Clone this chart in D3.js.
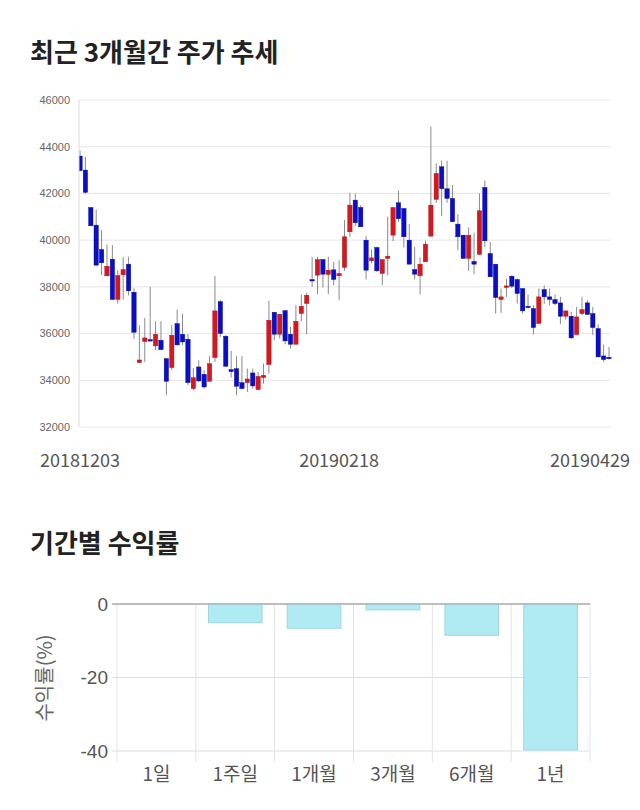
<!DOCTYPE html>
<html><head><meta charset="utf-8">
<script src="https://cdn.jsdelivr.net/npm/d3@7"></script>
<style>body{margin:0;background:#fff;} svg{display:block;}</style>
</head><body><svg id="c" width="640" height="810"></svg>
<script>
// ---- candlestick data (KRW) ----
const candleOpen = [43600,43000,41400,40643,39600,38471,39186,37457,38514,38971,37771,34757,35657,35743,35471,35714,34929,34543,36429,35970,
35757,33643,34571,34257,33957,34971,37371,35886,34457,34500,33900,33900,34314,33600,34114,34671,36914,35971,36986,35971,
35543,36857,37286,38315,38500,39172,38529,38729,38472,38829,40357,41714,41400,40000,39114,39686,38572,39214,40214,41600,
41357,40000,38743,38472,39071,40171,41743,43143,42200,41786,40686,40214,39214,39086,39386,42257,39429,38971,37457,37971,
38457,38314,37929,37171,37071,36429,37886,37571,37457,37314,36743,36743,35957,36857,37314,36857,36214,35043,34986];
const candleClose = [42971,42043,40614,38929,39029,38886,37457,38486,38743,37829,36057,34871,35814,35686,35971,35314,33957,35929,35514,35640,
33900,34114,33971,33714,34714,36971,36000,34600,34371,33743,33643,34057,33757,34171,34214,36571,35971,36829,35686,35543,
36528,37171,37643,38255,39172,38543,38714,38315,38572,40143,41500,40743,40571,38714,39242,38686,39172,39314,41400,40914,
40143,38971,38543,38971,39829,41500,42857,42200,41786,40786,40143,39214,40214,38971,41257,39971,38429,37543,37571,38042,
38029,37714,36971,37114,36257,37571,37571,37457,37286,36743,36971,35814,36714,37029,36814,36257,35000,34886,34957];
const candleHigh = [43829,43571,41400,41314,40429,39814,39786,38714,39286,39286,37943,36357,36671,38000,36529,36529,34950,36357,37029,36850,
35971,34529,34857,34429,35029,38457,37429,35929,35257,35029,35029,34500,34500,34357,34714,37400,36914,36829,36986,36286,
37214,37671,37743,39285,39285,39172,39285,39070,39142,40857,42029,42000,41500,40171,39600,39714,39172,41000,41400,42114,
41357,40686,39714,39257,39971,44857,43286,43400,43400,42357,41114,40214,40543,40314,42000,42543,39929,38971,37929,38357,
38500,38357,37929,37671,37214,37929,38057,37929,37671,37571,36971,36929,37143,37571,37429,37143,36400,35529,35429];
const candleLow = [42950,42000,40600,38900,38500,38471,37450,37286,37457,37629,35771,34740,34786,35680,35286,35286,33357,34429,35500,35500,
33786,33571,33929,33643,33957,34786,35857,34571,34114,33357,33600,33500,33643,33571,33857,34286,35714,35786,35543,35357,
35543,36529,35957,38000,37686,37971,37686,38070,37429,38686,40142,40600,40571,38315,39000,38643,38070,38500,39957,40785,
39686,38971,38315,37686,39071,40171,41600,41029,41600,40786,39571,39214,38686,38543,39386,39714,38429,36857,36885,37571,
37950,37286,36857,37071,35957,36429,37271,37214,37214,36400,36600,35786,35957,36786,36814,35929,35000,34786,34886];
const priceTicks = [32000,34000,36000,38000,40000,42000,44000,46000];
const dateTickLabels = ["20181203","20190218","20190429"];
const dateTickIndex = [0,48,98];

// ---- return data ----
const periods = ["1일","1주일","1개월","3개월","6개월","1년"];
const returns = [0,-5.1,-6.6,-1.6,-8.5,-39.7];
const returnTicks = [0,-20,-40];

const svg = d3.select("#c");
const KR = "'Noto Sans CJK KR','Noto Sans',sans-serif";
const NUM = "'Liberation Sans',Arial,sans-serif";

// titles
svg.append("text").attr("x",30).attr("y",62).text("최근 3개월간 주가 추세")
  .attr("font-family",KR).attr("font-weight","bold").attr("font-size",26).attr("fill","#222");
svg.append("text").attr("x",30).attr("y",553).text("기간별 수익률")
  .attr("font-family",KR).attr("font-weight","bold").attr("font-size",26).attr("fill","#222");

// ---- candlestick chart ----
const pl = 79, pr = 610, pt = 100, pb = 427;
const y = d3.scaleLinear().domain([32000,46000]).range([pb,pt]);
const x = d3.scaleLinear().domain([0,candleOpen.length-1]).range([80,609]);
const g1 = svg.append("g");
g1.selectAll("line.grid").data(priceTicks).join("line")
  .attr("x1",pl).attr("x2",pr).attr("y1",d=>y(d)).attr("y2",d=>y(d))
  .attr("stroke","#e6e6e6").attr("stroke-width",1);
g1.append("line").attr("x1",pl).attr("x2",pl).attr("y1",pt).attr("y2",pb).attr("stroke","#dcdcdc");
g1.selectAll("text.yt").data(priceTicks).join("text")
  .attr("x",70).attr("y",d=>y(d)).attr("dy","0.35em").attr("text-anchor","end")
  .attr("font-family",NUM).attr("font-size",11).attr("fill","#666").text(d=>d);
svg.append("clipPath").attr("id","cp").append("rect").attr("x",pl+0.5).attr("y",pt).attr("width",pr-pl+10).attr("height",pb-pt);
const cg = g1.append("g").attr("clip-path","url(#cp)");
const idx = d3.range(candleOpen.length);
cg.selectAll("line.wick").data(idx).join("line")
  .attr("x1",i=>x(i)).attr("x2",i=>x(i)).attr("y1",i=>y(candleHigh[i])).attr("y2",i=>y(candleLow[i]))
  .attr("stroke","#8a8a8a").attr("stroke-width",1);
const bw = 4.4;
cg.selectAll("rect.body").data(idx).join("rect")
  .attr("x",i=>x(i)-bw/2).attr("width",bw)
  .attr("y",i=>y(Math.max(candleOpen[i],candleClose[i])))
  .attr("height",i=>Math.max(1.5,Math.abs(y(candleOpen[i])-y(candleClose[i]))))
  .attr("fill",i=>candleClose[i]>=candleOpen[i]?"#d3191f":"#0a0fc4")
  .attr("stroke",i=>candleClose[i]>=candleOpen[i]?"#b01418":"#08089a").attr("stroke-width",0.4);
svg.selectAll("text.xt").data(dateTickLabels).join("text")
  .attr("x",(d,k)=>Math.min(x(dateTickIndex[k]),590)).attr("y",467).attr("text-anchor","middle")
  .attr("font-family",KR).attr("font-size",18).attr("fill","#555").text(d=>d);

// ---- returns bar chart ----
const bl = 117, br = 590, bt = 604, bb = 751;
const xb = d3.scaleBand().domain(periods).range([bl,br]).paddingInner(0.32).paddingOuter(0.16);
const yb = d3.scaleLinear().domain([-40,0]).range([bb,bt]);
const g2 = svg.append("g");
const step = xb.step();
g2.selectAll("line.vg").data(d3.range(periods.length+1)).join("line")
  .attr("x1",k=>bl+k*step).attr("x2",k=>bl+k*step).attr("y1",bt).attr("y2",bb+11)
  .attr("stroke","#e4e4e4");
g2.selectAll("line.hg").data(returnTicks).join("line")
  .attr("x1",bl-5).attr("x2",br).attr("y1",d=>yb(d)).attr("y2",d=>yb(d))
  .attr("stroke",d=>d===0?"#a8a8a8":"#dedede");
g2.selectAll("rect.bar").data(periods).join("rect")
  .attr("x",d=>xb(d)).attr("width",xb.bandwidth())
  .attr("y",(d,k)=>yb(Math.max(0,returns[k])))
  .attr("height",(d,k)=>Math.abs(yb(returns[k])-yb(0)))
  .attr("fill","#b0eaf3").attr("stroke","#9cd5df").attr("stroke-width",1);
g2.append("line").attr("x1",bl-5).attr("x2",br).attr("y1",yb(0)).attr("y2",yb(0)).attr("stroke","#a8a8a8");
g2.selectAll("text.ybt").data(returnTicks).join("text")
  .attr("x",108).attr("y",d=>yb(d)).attr("dy","0.35em").attr("text-anchor","end")
  .attr("font-family",NUM).attr("font-size",19).attr("fill","#555").text(d=>d);
g2.selectAll("text.xbt").data(periods).join("text")
  .attr("x",d=>xb(d)+xb.bandwidth()/2).attr("y",781).attr("text-anchor","middle")
  .attr("font-family",KR).attr("font-size",19).attr("fill","#555").text(d=>d);
g2.append("text").attr("transform","translate(52,678) rotate(-90)").attr("text-anchor","middle")
  .attr("font-family",KR).attr("font-size",20).attr("fill","#666").text("수익률(%)");
</script></body></html>
